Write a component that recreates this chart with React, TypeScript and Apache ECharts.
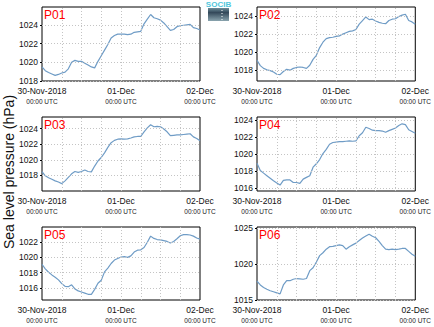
import React, { useEffect, useRef } from "react";
import * as echarts from "echarts";

// Hours after 30-Nov-2018 00:00 UTC
const HOURS = [0,1,2,3,4,5,6,7,8,9,10,11,12,13,14,15,16,17,18,19,20,21,22,23,24,25,26,27,28,29,30,31,32,33,34,35,36,37,38,39,40,41,42,43,44,45,46,47,48];
const X_GRID = [6, 12, 18, 24, 30, 36, 42];

const X_LABELS: Record<number, string> = { 0: "30-Nov-2018", 24: "01-Dec", 48: "02-Dec" };
const X_SUBLABEL = "00:00 UTC";

const NAMES = ["P01", "P02", "P03", "P04", "P05", "P06"];

const P01 = [1019.5,1019.1,1018.9,1018.75,1018.6,1018.7,1018.85,1018.95,1019.3,1020.0,1020.2,1020.1,1020.1,1019.9,1019.7,1019.5,1019.4,1020.1,1020.7,1021.3,1021.9,1022.6,1022.85,1023.0,1023.0,1023.0,1022.95,1023.0,1023.2,1023.25,1023.3,1024.1,1024.6,1025.1,1024.75,1024.65,1024.5,1024.2,1023.8,1023.4,1023.5,1023.8,1023.9,1023.95,1024.0,1024.05,1023.7,1023.6,1023.45];
const P02 = [1019.1,1018.5,1018.2,1018.05,1017.95,1017.8,1017.55,1017.5,1017.85,1018.1,1018.0,1018.2,1018.3,1018.35,1018.3,1018.2,1018.55,1019.2,1019.65,1020.5,1021.1,1021.5,1021.6,1021.65,1021.75,1021.8,1022.0,1022.15,1022.3,1022.35,1022.5,1023.1,1023.5,1023.9,1023.6,1023.65,1023.45,1023.3,1023.2,1023.15,1023.5,1023.65,1023.7,1023.95,1024.1,1024.2,1023.5,1023.35,1023.1];
const P03 = [1018.5,1017.95,1017.7,1017.5,1017.3,1017.15,1016.95,1017.3,1017.75,1018.2,1018.5,1018.4,1018.5,1018.7,1018.5,1018.45,1019.2,1019.85,1020.3,1020.9,1021.6,1022.2,1022.5,1022.65,1022.7,1022.65,1022.7,1022.8,1022.95,1023.0,1023.0,1023.6,1024.1,1024.5,1024.25,1024.3,1024.25,1023.95,1023.6,1023.1,1023.15,1023.2,1023.2,1023.25,1023.3,1023.35,1022.95,1022.75,1022.45];
const P04 = [1018.95,1018.1,1017.8,1017.5,1017.2,1016.9,1016.65,1016.4,1016.95,1017.0,1017.0,1016.7,1016.7,1016.6,1017.1,1017.3,1017.5,1018.5,1018.9,1019.4,1020.1,1020.6,1021.2,1021.4,1021.45,1021.5,1021.5,1021.55,1021.6,1021.55,1021.6,1022.2,1022.55,1023.2,1023.05,1022.85,1022.8,1022.8,1022.75,1022.6,1022.8,1022.95,1023.1,1023.4,1023.6,1023.5,1022.9,1022.7,1022.5];
const P05 = [1019.1,1018.5,1018.05,1017.7,1017.4,1017.05,1016.55,1016.2,1016.15,1016.4,1015.85,1015.6,1015.45,1015.3,1015.15,1015.15,1015.8,1016.6,1017.0,1018.1,1018.6,1019.2,1019.65,1019.85,1020.05,1020.1,1020.0,1020.2,1020.7,1020.95,1021.0,1021.3,1022.0,1022.8,1022.5,1022.35,1022.3,1022.2,1022.1,1021.9,1022.1,1022.45,1022.85,1023.0,1023.0,1022.95,1022.8,1022.55,1022.4];
const P06 = [1017.65,1017.1,1016.75,1016.5,1016.3,1016.15,1016.0,1015.85,1017.1,1017.7,1017.7,1017.9,1018.0,1017.95,1017.9,1018.0,1019.1,1019.5,1020.3,1021.2,1021.6,1022.1,1022.45,1022.5,1022.6,1022.7,1022.6,1022.1,1022.45,1022.7,1022.95,1023.3,1023.65,1023.95,1024.2,1023.9,1023.7,1023.2,1022.6,1022.1,1022.05,1022.1,1022.05,1022.1,1022.2,1022.2,1021.8,1021.4,1021.1];

const Y_MIN = [1018, 1016.8, 1016, 1015.7, 1014.4, 1015];
const Y_MAX = [1025.9, 1025, 1025.5, 1024.4, 1024, 1025.2];
const Y_TICKS = [
  [1018, 1020, 1022, 1024],
  [1018, 1020, 1022, 1024],
  [1018, 1020, 1022, 1024],
  [1016, 1018, 1020, 1022, 1024],
  [1016, 1018, 1020, 1022],
  [1015, 1020, 1025],
];

const SERIES = [P01, P02, P03, P04, P05, P06];

const LEFTS = [42, 257];
const WIDTHS = [158, 159];
const TOPS = [7, 117, 227];
const HEIGHTS = [74, 74, 73];

export default function App() {
  const ref = useRef<HTMLDivElement>(null);
  useEffect(() => {
    if (!ref.current) return;
    const chart = echarts.init(ref.current, null, { renderer: "svg" });
    const font = "Liberation Sans, Arial, sans-serif";
    const gridLine = { color: "#c4c4c4", type: [1, 2] as any, width: 1 };
    const grids: any[] = [];
    const xAxes: any[] = [];
    const yAxes: any[] = [];
    const series: any[] = [];
    const graphics: any[] = [];
    NAMES.forEach((name, i) => {
      const col = i % 2;
      const row = Math.floor(i / 2);
      grids.push({
        left: LEFTS[col],
        top: TOPS[row],
        width: WIDTHS[col],
        height: HEIGHTS[row],
        show: true,
        borderColor: "#000",
        borderWidth: 1,
        backgroundColor: "transparent",
        z: 3,
      });
      xAxes.push({
        type: "value",
        gridIndex: i,
        min: 0,
        max: 48,
        interval: 6,
        axisLine: { show: false },
        axisTick: { show: false },
        splitLine: { show: false },
        axisLabel: {
          show: true,
          margin: 4,
          customValues: [0, 24, 48],
          showMinLabel: true,
          showMaxLabel: true,
          fontFamily: font,
          formatter: (v: number) => (X_LABELS[v] ? `{a|${X_LABELS[v]}}\n{b|${X_SUBLABEL}}` : ""),
          rich: {
            a: { fontSize: 8.5, color: "#111", fontFamily: font, lineHeight: 11 },
            b: { fontSize: 6.5, color: "#222", fontFamily: font, lineHeight: 10 },
          },
        },
      });
      yAxes.push({
        type: "value",
        gridIndex: i,
        min: Y_MIN[i],
        max: Y_MAX[i],
        axisLine: { show: false },
        axisTick: { show: true, length: 2, customValues: Y_TICKS[i], lineStyle: { color: "#000" } },
        splitLine: { show: false },
        axisLabel: {
          customValues: Y_TICKS[i],
          formatter: (v: number) => String(v),
          fontSize: 8.5,
          color: "#111",
          fontFamily: font,
          margin: 4,
        },
      });
      series.push({
        type: "line",
        xAxisIndex: i,
        yAxisIndex: i,
        data: HOURS.map((h, k) => [h, SERIES[i][k]]),
        showSymbol: false,
        z: 4,
        lineStyle: { color: "#6f9cc6", width: 1.2 },
        itemStyle: { color: "#6f9cc6" },
        markLine: {
          silent: true,
          symbol: "none",
          label: { show: false },
          lineStyle: gridLine,
          emphasis: { disabled: true },
          data: [
            ...Y_TICKS[i].map((v) => ({ yAxis: v })),
            ...X_GRID.map((v) => ({ xAxis: v })),
          ],
        },
      });
      graphics.push({
        type: "text",
        left: LEFTS[col] + 2,
        top: TOPS[row] + 2,
        z: 10,
        style: { text: name, fill: "#ff0000", fontSize: 12, fontFamily: font },
      });
    });
    graphics.push({
      type: "text",
      x: 9,
      y: 172,
      rotation: Math.PI / 2,
      style: {
        text: "Sea level pressure (hPa)",
        fill: "#111",
        fontSize: 14,
        fontFamily: font,
        textAlign: "center",
        textVerticalAlign: "middle",
      },
    });
    // logo
    graphics.push({
      type: "rect",
      shape: { x: 208, y: 8, width: 21, height: 13 },
      style: {
        fill: new echarts.graphic.LinearGradient(0, 0, 0, 1, [
          { offset: 0, color: "#6d8c99" },
          { offset: 0.35, color: "#34495a" },
          { offset: 1, color: "#8aa4ae" },
        ]),
      },
    });
    graphics.push({
      type: "line",
      shape: { x1: 222, y1: 10, x2: 222, y2: 20 },
      style: { stroke: "#ffffff", lineWidth: 1, lineDash: [1, 2] },
    });
    graphics.push({
      type: "text",
      x: 218.5,
      y: 0.5,
      style: {
        text: "SOCIB",
        fill: "#4fc6dc",
        fontSize: 8,
        fontWeight: "bold",
        fontFamily: font,
        textAlign: "center",
        textVerticalAlign: "top",
      },
    });
    chart.setOption({
      animation: false,
      backgroundColor: "#fff",
      grid: grids,
      xAxis: xAxes,
      yAxis: yAxes,
      series,
      graphic: graphics,
    });
    return () => chart.dispose();
  }, []);
  return (
    <div
      ref={ref}
      style={{ position: "fixed", left: 0, top: 0, width: 434, height: 327 }}
    />
  );
}
